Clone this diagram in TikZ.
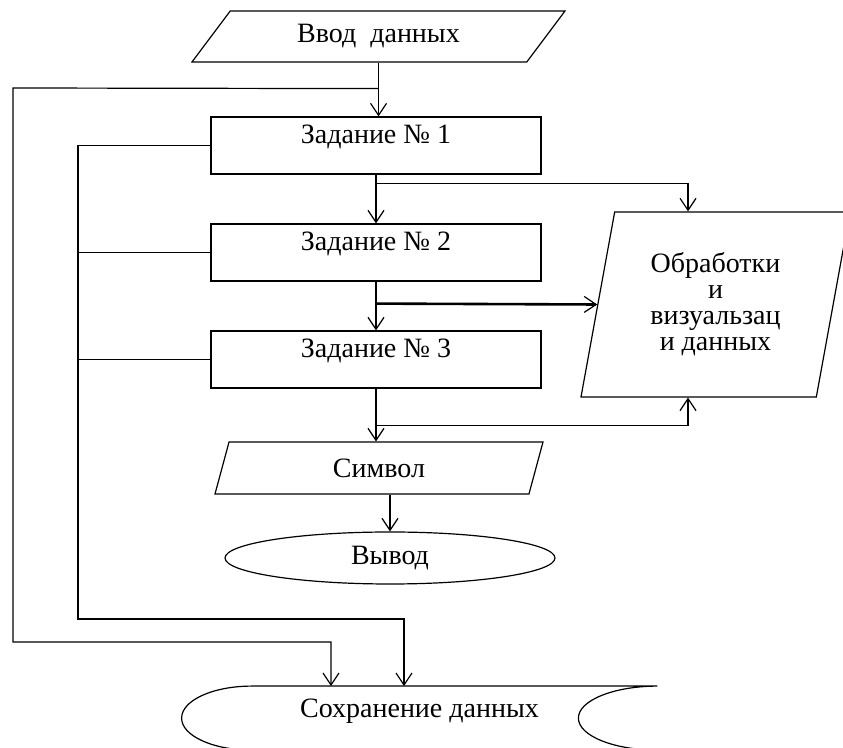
\documentclass[tikz,border=0pt]{standalone}
\usepackage{fontspec}
\setmainfont{Liberation Serif}
\usepackage{tikz}
\usetikzlibrary{arrows.meta, positioning, calc, shapes.geometric}
\tikzset{
  fcbox/.style   = {draw, line width=0.6pt, font=\fontsize{14}{16}\selectfont,
                     minimum width=165pt, minimum height=28.5pt, inner sep=2pt,
                     text height=10pt, text depth=12pt},
  fcio/.style    = {draw, trapezium, trapezium stretches body, line width=0.6pt,
                     font=\fontsize{14}{16}\selectfont, inner sep=1pt},
  fcterm/.style  = {draw, ellipse, line width=0.6pt, font=\fontsize{14}{16}\selectfont,
                     minimum width=165pt, minimum height=26pt, inner sep=0pt},
  fcstore/.style = {font=\fontsize{14}{16}\selectfont, inner sep=0pt,
                     minimum width=237.5pt, minimum height=31pt,
                     text height=10pt, text depth=10pt},
  fcline/.style  = {line width=0.6pt},
  fcflow/.style  = {fcline, -{Straight Barb[length=6pt, width=8pt, line width=0.6pt]}},
  fcbold/.style  = {fcflow, line width=1.3pt},
}
\begin{document}
\begin{tikzpicture}[x=0.5pt, y=-0.5pt]
  \useasboundingbox (0,0) rectangle (843,748);

  \node[fcio, minimum width=186.5pt, minimum height=25.5pt,
        trapezium left angle=36, trapezium right angle=144]
       (inp) at (378.5,36.5) {Ввод\ \ данных};
  \node[fcbox] (z1) at (376,145.5) {Задание №~1};
  \node[fcbox] (z2) at (376,252.5) {Задание №~2};
  \node[fcbox] (z3) at (376,359.5) {Задание №~3};
  \node[fcio, minimum width=134.5pt, minimum height=92.5pt, align=center,
        trapezium left angle=72.6, trapezium right angle=107.4,
        font=\fontsize{14}{13}\selectfont]
       (proc) at (715.5,304.5) {Обработки\\и\\визуальзац\\и данных};
  \node[fcio, minimum width=164pt, minimum height=26pt,
        trapezium left angle=58.4, trapezium right angle=121.6]
       (sym) at (379,468) {Символ};
  \node[fcterm] (out) at (390,558) {Вывод};
  \node[fcstore] (save) at (419.5,717.5) {Сохранение данных};

  \draw[fcline] ($(save.north west)+(70,0)$) coordinate (sl)
       arc[start angle=90, end angle=270, x radius=35pt, y radius=16pt]
       -- ($(save.north east)+(0,64)$)
       arc[start angle=270, end angle=90, x radius=39.5pt, y radius=16pt]
       -- cycle;

  \coordinate (j0) at ($(inp.south)+(0,26)$);
  \coordinate (o1) at (13,88);
  \coordinate (o2) at (331,642);
  \coordinate (i1) at (78,619);
  \coordinate (i2) at (404,619);
  \coordinate (b1) at ($(z1.south)+(0,9)$);
  \coordinate (b2) at ($(z2.south)+(0,22)$);
  \coordinate (b3) at ($(z3.south)+(0,37)$);

  \draw[fcflow] (inp.south) -- (inp.south |- z1.north);
  \draw[fcflow] (j0) -- (o1) |- (o2) -- (o2 |- save.north);
  \draw[fcflow] (z1.west) -| (i1) -- (i2) -- (i2 |- save.north);
  \draw[fcline] (z2.west) -- (z2.west -| i1);
  \draw[fcline] (z3.west) -- (z3.west -| i1);

  \draw[fcflow] (z1.south) -- (z2.north);
  \draw[fcflow] (b1) -| ($(proc.north)+(-27.5,0)$);
  \draw[fcflow] (z2.south) -- (z3.north);
  \draw[fcbold] (b2) -- (proc.west);
  \draw[fcflow] (z3.south) -- (z3.south |- sym.north);
  \draw[fcflow] (b3) -| ($(proc.south)+(-27.5,0)$);
  \draw[fcflow] (sym.south -| out.north) -- (out.north);
\end{tikzpicture}
\end{document}
